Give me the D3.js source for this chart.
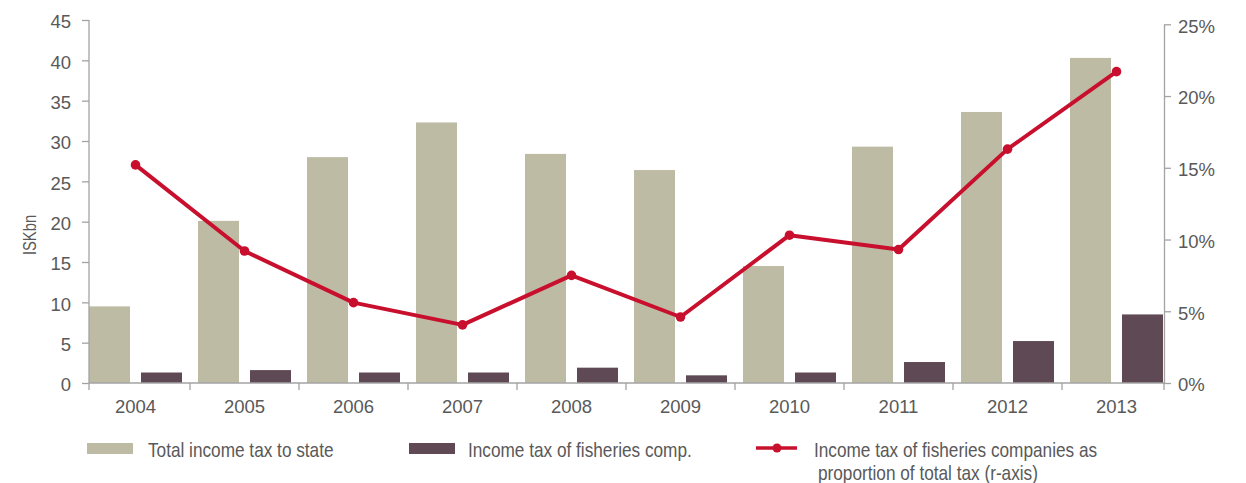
<!DOCTYPE html>
<html>
<head>
<meta charset="utf-8">
<script src="https://cdn.jsdelivr.net/npm/d3@7"></script>
<style>
  html, body { margin: 0; padding: 0; background: #fff; }
  svg { display: block; }
  .tick-label { font-family: "Liberation Sans", Arial, sans-serif; font-size: 18.5px; fill: #595959; }
  .narrow { font-family: "Liberation Sans", Arial, sans-serif; fill: #595959; }
</style>
</head>
<body>
<svg id="chart" width="1246" height="483"></svg>
<script>
// Income tax, ISK billions, and fisheries share of the total
const years = ["2004", "2005", "2006", "2007", "2008", "2009", "2010", "2011", "2012", "2013"];
const totalIncomeTax = [9.5, 20.1, 28.0, 32.3, 28.4, 26.4, 14.5, 29.3, 33.6, 40.3];
const fisheriesIncomeTax = [1.3, 1.6, 1.3, 1.3, 1.9, 0.95, 1.3, 2.6, 5.2, 8.5];
const fisheriesShare = [15.2, 9.2, 5.6, 4.05, 7.5, 4.6, 10.3, 9.3, 16.3, 21.7];
const leftTicks = [0, 5, 10, 15, 20, 25, 30, 35, 40, 45];
const rightTicks = [0, 5, 10, 15, 20, 25];
const seriesNames = ["Total income tax to state", "Income tax of fisheries comp.",
  "Income tax of fisheries companies as", "proportion of total tax (r-axis)"];

const colors = { total: "#bebba4", fish: "#5e4954", line: "#c8102e", axis: "#a3a3a3" };

const svg = d3.select("#chart");

const plotLeft = 89, plotRight = 1164, plotBottom = 383;

const x = d3.scaleBand().domain(years).range([plotLeft, 1163])
  .paddingInner(16 / 109).paddingOuter(0);
const xSeries = d3.scaleBand().domain(["total", "fish"]).range([0, x.bandwidth()])
  .paddingInner(11 / 52);
const yLeft = d3.scaleLinear().domain([0, 45]).range([plotBottom, 20]);
const yRight = d3.scaleLinear().domain([0, 25]).range([plotBottom, 24.3]);

// Condensed text: regular face squeezed horizontally
function narrowText(parent, tx, ty, size, str, rotate) {
  const g = parent.append("g")
    .attr("transform", `translate(${tx},${ty})${rotate ? ` rotate(${rotate})` : ""} scale(0.82,1)`);
  return g.append("text").attr("class", "narrow").attr("font-size", size).text(str);
}

// Bars
const groups = svg.append("g").selectAll("g").data(years).join("g")
  .attr("transform", d => `translate(${x(d)},0)`);
groups.append("rect")
  .attr("x", xSeries("total")).attr("width", xSeries.bandwidth())
  .attr("y", (d, i) => yLeft(totalIncomeTax[i]))
  .attr("height", (d, i) => plotBottom - yLeft(totalIncomeTax[i]))
  .attr("fill", colors.total);
groups.append("rect")
  .attr("x", xSeries("fish")).attr("width", xSeries.bandwidth())
  .attr("y", (d, i) => yLeft(fisheriesIncomeTax[i]))
  .attr("height", (d, i) => plotBottom - yLeft(fisheriesIncomeTax[i]))
  .attr("fill", colors.fish);

// Left axis
const gL = svg.append("g").attr("transform", `translate(${plotLeft},0)`)
  .call(d3.axisLeft(yLeft).tickValues(leftTicks).tickSize(7).tickPadding(11).tickSizeOuter(0));
gL.select(".domain").attr("stroke", colors.axis).attr("stroke-width", 1.3)
  .attr("d", `M0,${yLeft(45)}V${plotBottom}`);
gL.selectAll(".tick line").attr("stroke", colors.axis).attr("stroke-width", 1.3);
gL.selectAll(".tick text").attr("class", "tick-label").attr("dy", "0.42em");

// Right axis
const gR = svg.append("g").attr("transform", `translate(${plotRight},0)`)
  .call(d3.axisRight(yRight).tickValues(rightTicks).tickSize(7).tickPadding(7)
    .tickSizeOuter(0).tickFormat(d => d + "%"));
gR.select(".domain").attr("stroke", colors.axis).attr("stroke-width", 1.3);
gR.selectAll(".tick line").attr("stroke", colors.axis).attr("stroke-width", 1.3);
gR.selectAll(".tick text").attr("class", "tick-label").attr("dy", "0.42em");

// Bottom axis: ticks at the edges of each category, labels centred on groups
const gap = x.step() * x.paddingInner();
const bounds = [plotLeft].concat(years.slice(1).map(d => x(d) - gap / 2), [plotRight]);
const gB = svg.append("g");
gB.append("line").attr("x1", plotLeft).attr("x2", plotRight)
  .attr("y1", plotBottom).attr("y2", plotBottom)
  .attr("stroke", colors.axis).attr("stroke-width", 1.3);
gB.selectAll("line.tk").data(bounds).join("line").attr("class", "tk")
  .attr("x1", d => d).attr("x2", d => d).attr("y1", plotBottom).attr("y2", plotBottom + 7)
  .attr("stroke", colors.axis).attr("stroke-width", 1.3);
gB.selectAll("text").data(years).join("text").attr("class", "tick-label")
  .attr("x", d => x(d) + x.bandwidth() / 2).attr("y", 413)
  .attr("text-anchor", "middle").text(d => d);

// Share line (right axis)
const cx = d => x(d) + x.bandwidth() / 2;
const line = d3.line().x((d, i) => cx(years[i])).y(d => yRight(d));
svg.append("path").datum(fisheriesShare).attr("d", line)
  .attr("fill", "none").attr("stroke", colors.line).attr("stroke-width", 4)
  .attr("stroke-linejoin", "round");
svg.append("g").selectAll("circle").data(fisheriesShare).join("circle")
  .attr("cx", (d, i) => cx(years[i])).attr("cy", d => yRight(d)).attr("r", 4.8)
  .attr("fill", colors.line);

// Axis title
narrowText(svg, 36, 235, 18, "ISKbn", -90).attr("text-anchor", "middle");

// Legend
const leg = svg.append("g").attr("class", "legend");
leg.append("rect").attr("x", 87).attr("y", 443).attr("width", 46).attr("height", 11).attr("fill", colors.total);
narrowText(leg, 148, 456.5, 21, seriesNames[0]);
leg.append("rect").attr("x", 409).attr("y", 443).attr("width", 46).attr("height", 11).attr("fill", colors.fish);
narrowText(leg, 468, 456.5, 21, seriesNames[1]);
leg.append("line").attr("x1", 756).attr("x2", 797).attr("y1", 448).attr("y2", 448)
  .attr("stroke", colors.line).attr("stroke-width", 3.5);
leg.append("circle").attr("cx", 777).attr("cy", 448).attr("r", 4.5).attr("fill", colors.line);
narrowText(leg, 814, 456.5, 21, seriesNames[2]);
narrowText(leg, 818, 479.5, 21, seriesNames[3]);
</script>
</body>
</html>
